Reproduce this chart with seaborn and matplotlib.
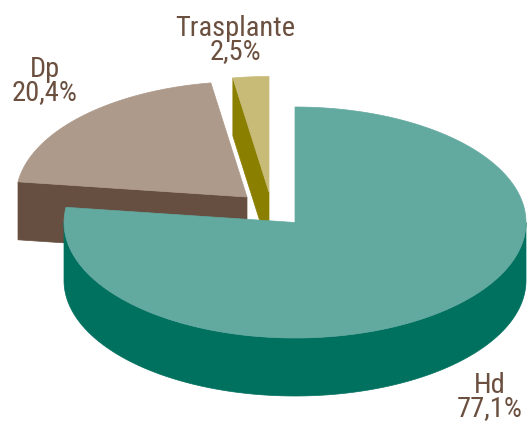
import numpy as np
import matplotlib
matplotlib.use("Agg")
import matplotlib.pyplot as plt
import seaborn as sns

sns.set_theme(style="white")
plt.rcParams["font.family"] = ["Roboto Condensed", "DejaVu Sans"]

# data
labels = ["Hd", "Dp", "Trasplante"]
values = [77.1, 20.4, 2.5]
value_text = ["77,1%", "20,4%", "2,5%"]
top_colors = ["#62a9a0", "#ad9a8b", "#c8bb78"]
side_colors = ["#00705f", "#664e40", "#8b7f00"]

# layout (pixel space)
CX, CY = 295, 222.5
RX, RY = 231, 115.5
DEPTH = 58
explode = [(0, 0), (-48, -25.5), (-26, -30.5)]
label_pos = [(490, 397), (45, 81), (235, 40)]
TEXT_COLOR = "#6b5040"


def pt(theta, off, dz=0.0):
    t = np.deg2rad(theta)
    return (CX + off[0] + RX * np.cos(t), CY + off[1] - RY * np.sin(t) + dz)


def arc(t_from, t_to, off, dz=0.0, n=200):
    ts = np.linspace(t_from, t_to, n)
    return [pt(t, off, dz) for t in ts]


def fill(ax, poly, color):
    xs, ys = zip(*poly)
    ax.fill(xs, ys, facecolor=color, edgecolor=color, linewidth=0.5)


def draw_wedge(ax, theta1, theta2, off, top, side):
    # theta1 > theta2, slice runs clockwise from theta1 to theta2
    apex = (CX + off[0], CY + off[1])
    apex_low = (apex[0], apex[1] + DEPTH)

    # cut faces that turn towards the viewer
    if np.cos(np.deg2rad(theta1)) < -1e-6:
        fill(ax, [apex, pt(theta1, off), pt(theta1, off, DEPTH), apex_low], side)
    if np.cos(np.deg2rad(theta2)) > 1e-6:
        fill(ax, [apex, pt(theta2, off), pt(theta2, off, DEPTH), apex_low], side)

    # outer rim, front half only
    for k in range(-2, 2):
        lo = max(theta2, -180 + 360 * k)
        hi = min(theta1, 0 + 360 * k)
        if hi > lo:
            fill(ax, arc(lo, hi, off) + arc(hi, lo, off, DEPTH), side)

    # top face
    fill(ax, [apex] + arc(theta1, theta2, off), top)


fig, ax = plt.subplots(figsize=(5.28, 4.25), dpi=100)
fig.subplots_adjust(0, 0, 1, 1)

total = sum(values)
angles = []
cum = 0.0
for v in values:
    t1 = 90 - cum / total * 360
    cum += v
    angles.append((t1, 90 - cum / total * 360))

# slices at the back first, the big one last
for i in [1, 2, 0]:
    draw_wedge(ax, *angles[i], explode[i], top_colors[i], side_colors[i])

for i in range(len(labels)):
    ax.text(label_pos[i][0], label_pos[i][1], f"{labels[i]}\n{value_text[i]}",
            ha="center", va="center", fontsize=20.5, color=TEXT_COLOR,
            linespacing=0.85)

ax.set_xlim(0, 528)
ax.set_ylim(425, 0)
ax.axis("off")

fig.savefig("out.png", dpi=100)
